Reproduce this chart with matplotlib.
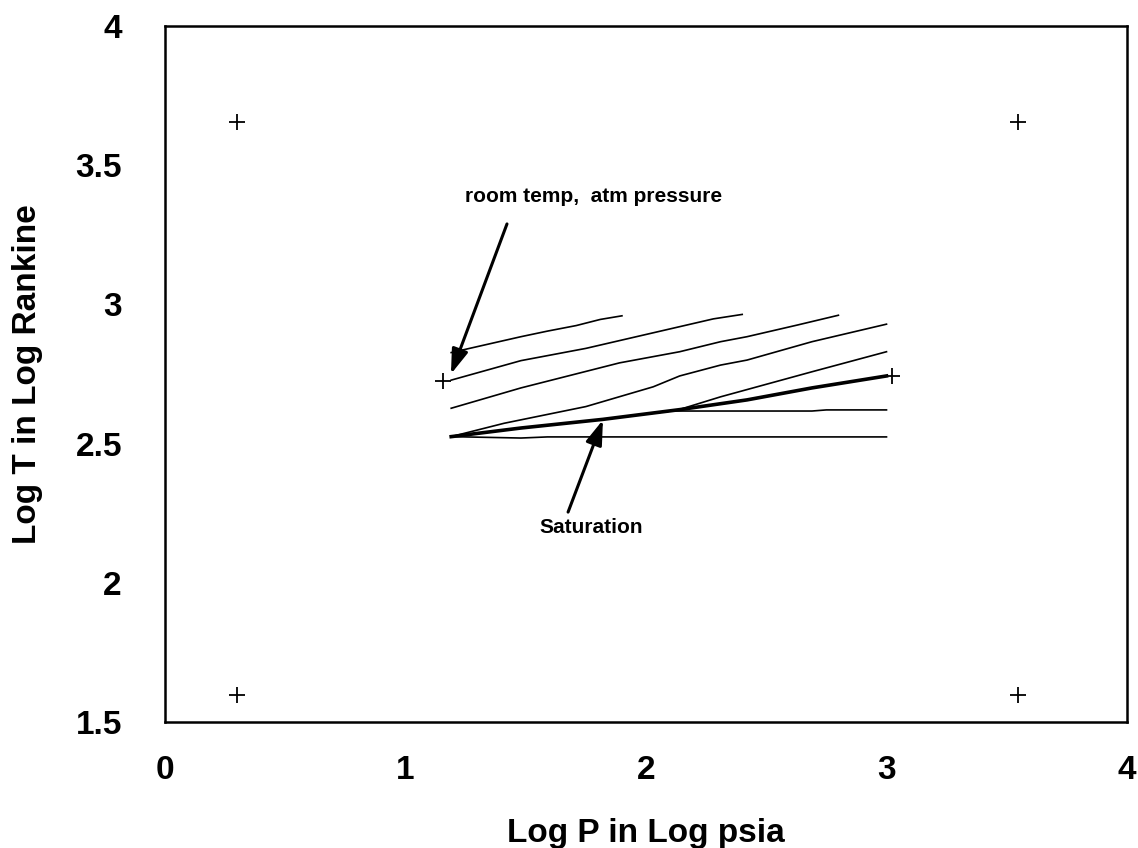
import matplotlib
matplotlib.use("Agg")
import matplotlib.pyplot as plt

plt.rcParams['font.family'] = ['Liberation Sans', 'DejaVu Sans']
plt.rcParams['font.weight'] = 'bold'

# ---- data (log10 P [psia], log10 T [R]) ----
line1_x = [1.19, 1.48, 1.59, 1.71, 1.81, 1.90]
line1_y = [2.827, 2.884, 2.904, 2.924, 2.946, 2.959]

line2_x = [1.19, 1.48, 1.75, 2.03, 2.14, 2.28, 2.40]
line2_y = [2.728, 2.798, 2.842, 2.898, 2.920, 2.948, 2.964]

line3_x = [1.19, 1.48, 1.89, 2.14, 2.31, 2.42, 2.63, 2.80]
line3_y = [2.627, 2.700, 2.790, 2.830, 2.866, 2.884, 2.926, 2.961]

line4_x = [1.19, 1.41, 1.75, 2.03, 2.14, 2.31, 2.42, 2.69, 3.00]
line4_y = [2.525, 2.573, 2.633, 2.704, 2.743, 2.782, 2.800, 2.866, 2.929]

line5_x = [1.19, 1.48, 1.82, 2.13, 2.31, 2.69, 3.00]
line5_y = [2.525, 2.556, 2.587, 2.620, 2.668, 2.758, 2.830]

line6_x = [1.19, 1.48, 1.82, 2.10, 2.69, 2.75, 3.00]
line6_y = [2.525, 2.556, 2.587, 2.617, 2.617, 2.621, 2.621]

line7_x = [1.19, 1.48, 1.59, 3.00]
line7_y = [2.525, 2.520, 2.524, 2.524]

sat_x = [1.19, 1.48, 1.82, 2.14, 2.42, 2.69, 3.00]
sat_y = [2.525, 2.556, 2.587, 2.622, 2.657, 2.700, 2.743]

marker_x = [0.30, 3.545, 0.30, 3.545, 1.156, 3.023]
marker_y = [3.654, 3.654, 1.597, 1.597, 2.725, 2.743]

xticks = [0, 1, 2, 3, 4]
yticks = [1.5, 2, 2.5, 3, 3.5, 4]
ytick_labels = ['1.5', '2', '2.5', '3', '3.5', '4']

# ---- figure ----
fig = plt.figure(figsize=(11.38, 8.48), dpi=100)
ax = fig.add_axes([165 / 1138, 1 - 722 / 848, (1127 - 165) / 1138, (722 - 26) / 848])

thin = dict(color='black', lw=1.2, solid_joinstyle='round')
for xs, ys in [(line1_x, line1_y), (line2_x, line2_y), (line3_x, line3_y),
               (line4_x, line4_y), (line5_x, line5_y), (line6_x, line6_y),
               (line7_x, line7_y)]:
    ax.plot(xs, ys, **thin)
ax.plot(sat_x, sat_y, color='black', lw=2.6, solid_joinstyle='round')

ax.plot(marker_x, marker_y, linestyle='none', marker='+', color='black',
        markersize=12, markeredgewidth=1.3)

arrow = dict(arrowstyle='-|>,head_length=1.5,head_width=0.5', color='black', lw=2.2,
             shrinkA=0, shrinkB=0)
ax.annotate('', xy=(1.189, 2.750), xytext=(1.422, 3.289), arrowprops=arrow)
ax.annotate('', xy=(1.821, 2.585), xytext=(1.676, 2.254), arrowprops=arrow)
ax.text(1.780, 3.386, 'room temp,  atm pressure', ha='center', va='center',
        fontsize=15, fontweight='bold')
ax.text(1.771, 2.197, 'Saturation', ha='center', va='center',
        fontsize=15, fontweight='bold')

ax.set_xlim(0, 4)
ax.set_ylim(1.5, 4)
ax.set_xticks(xticks)
ax.set_xticklabels([str(t) for t in xticks])
ax.set_yticks(yticks)
ax.set_yticklabels(ytick_labels)
ax.tick_params(axis='both', length=0, labelsize=24)
ax.tick_params(axis='x', pad=24)
ax.tick_params(axis='y', pad=31)
for lab in ax.get_xticklabels() + ax.get_yticklabels():
    lab.set_fontweight('bold')

for side in ['left', 'top', 'bottom', 'right']:
    ax.spines[side].set_linewidth(1.8)
    ax.spines[side].set_color('black')

ax.set_xlabel('Log P in Log psia', fontsize=24, fontweight='bold')
ax.set_ylabel('Log T in Log Rankine', fontsize=24, fontweight='bold')
ax.xaxis.set_label_coords(0.5, -0.138)
ax.yaxis.set_label_coords(-0.127, 0.5)

fig.savefig('out.png', dpi=100)
